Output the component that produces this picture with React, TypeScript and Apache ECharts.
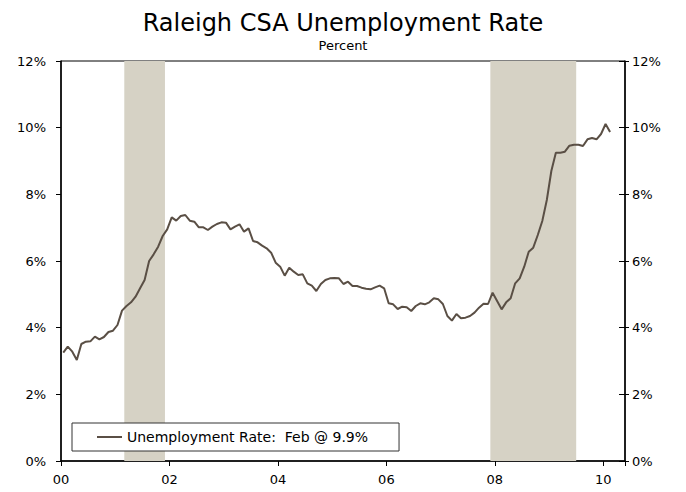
import React, { useEffect, useRef } from "react";
import * as echarts from "echarts";

const startYear = 2000;
// Monthly unemployment rate, Jan 2000 – Feb 2010 (percent)
const rates = [
  3.25, 3.43, 3.28, 3.03, 3.51, 3.58, 3.59, 3.73, 3.65, 3.72, 3.87, 3.91,
  4.08, 4.51, 4.65, 4.76, 4.93, 5.18, 5.43, 6.0, 6.2, 6.43, 6.75, 6.95,
  7.31, 7.21, 7.35, 7.38, 7.21, 7.18, 7.01, 7.01, 6.93, 7.03, 7.11, 7.16,
  7.15, 6.95, 7.03, 7.1, 6.88, 6.98, 6.6, 6.56, 6.46, 6.38, 6.25, 5.95,
  5.83, 5.56, 5.8, 5.68, 5.58, 5.6, 5.33, 5.26, 5.1, 5.31, 5.43, 5.48,
  5.49, 5.48, 5.31, 5.38, 5.25, 5.25, 5.2, 5.17, 5.15, 5.21, 5.26, 5.18,
  4.73, 4.7, 4.56, 4.63, 4.61, 4.5, 4.65, 4.73, 4.7, 4.76, 4.88, 4.85,
  4.71, 4.35, 4.21, 4.41, 4.28, 4.3, 4.35, 4.45, 4.6, 4.72, 4.71, 5.05,
  4.8, 4.55, 4.76, 4.88, 5.33, 5.48, 5.83, 6.28, 6.4, 6.78, 7.2, 7.83,
  8.7, 9.25, 9.25, 9.28, 9.46, 9.49, 9.49, 9.45, 9.65, 9.69, 9.65, 9.81,
  10.11, 9.87,
];
// Recession periods (decimal years)
const recessions: [number, number][] = [
  [2001.167, 2001.917],
  [2007.917, 2009.5],
];
const yTicks = [0, 2, 4, 6, 8, 10, 12];
const xTickYears = [2000, 2002, 2004, 2006, 2008, 2010];
const seriesName = "Unemployment Rate:  Feb @ 9.9%";

const FONT = "DejaVu Sans";

export default function App() {
  const ref = useRef<HTMLDivElement>(null);
  useEffect(() => {
    if (!ref.current) return;
    const chart = echarts.init(ref.current, undefined, { renderer: "svg" });
    const data = rates.map((v, i) => [startYear + (i + 0.5) / 12, v]);
    const yAxisBase = {
      type: "value" as const,
      min: yTicks[0],
      max: yTicks[yTicks.length - 1],
      interval: 2,
      splitLine: { show: false },
    };
    chart.setOption({
      animation: false,
      backgroundColor: "#fff",
      textStyle: { fontFamily: FONT },
      title: {
        text: "Raleigh CSA Unemployment Rate",
        subtext: "Percent",
        left: "center",
        top: 6,
        itemGap: 4,
        textStyle: { fontFamily: FONT, fontSize: 24, fontWeight: "normal", color: "#000" },
        subtextStyle: { fontFamily: FONT, fontSize: 13, color: "#000" },
      },
      grid: {
        left: 61,
        right: 61,
        top: 61,
        bottom: 31,
        show: true,
        borderColor: "#000",
        borderWidth: 1,
      },
      legend: {
        left: 72,
        top: 423,
        padding: [7, 31, 7, 25],
        borderColor: "#333",
        borderWidth: 1,
        backgroundColor: "#fff",
        itemWidth: 25,
        itemHeight: 2,
        textStyle: { fontFamily: FONT, fontSize: 14, color: "#000" },
        data: [{ name: seriesName, icon: "rect" }],
      },
      xAxis: {
        type: "value",
        min: startYear,
        max: 2010.4,
        interval: 2,
        axisLine: { show: true, lineStyle: { color: "#000", width: 1.5 } },
        axisTick: { show: true, length: 5, lineStyle: { color: "#000" } },
        axisLabel: {
          fontFamily: FONT,
          fontSize: 13,
          color: "#000",
          margin: 12,
          formatter: (v: number) =>
            xTickYears.includes(Math.round(v * 1000) / 1000) ? String(v).slice(2) : "",
        },
        splitLine: { show: false },
      },
      yAxis: [
        {
          ...yAxisBase,
          position: "left",
          axisLine: { show: true, lineStyle: { color: "#000", width: 1.5 } },
          axisTick: { show: true, length: 5, lineStyle: { color: "#000" } },
          axisLabel: { fontFamily: FONT, fontSize: 13, color: "#000", margin: 15, formatter: "{value}%" },
        },
        {
          ...yAxisBase,
          position: "right",
          axisLine: { show: true, lineStyle: { color: "#000", width: 1.5 } },
          axisTick: { show: true, length: 4, lineStyle: { color: "#000" } },
          axisLabel: { fontFamily: FONT, fontSize: 13, color: "#000", margin: 7, formatter: "{value}%" },
        },
        {
          ...yAxisBase,
          position: "right",
          axisLine: { show: false },
          axisTick: { show: true, inside: true, length: 6, lineStyle: { color: "#000" } },
          axisLabel: { show: false },
        },
      ],
      series: [
        {
          name: seriesName,
          type: "line",
          data,
          symbol: "none",
          z: 5,
          lineStyle: { color: "#5a4f45", width: 2 },
          itemStyle: { color: "#5a4f45" },
          markArea: {
            silent: true,
            itemStyle: { color: "#d6d2c5" },
            data: recessions.map(([a, b]) => [{ xAxis: a }, { xAxis: b }]),
          },
        },
      ],
    });
    return () => chart.dispose();
  }, []);
  return <div ref={ref} style={{ width: 686, height: 492, position: "absolute", left: 0, top: 0 }} />;
}
